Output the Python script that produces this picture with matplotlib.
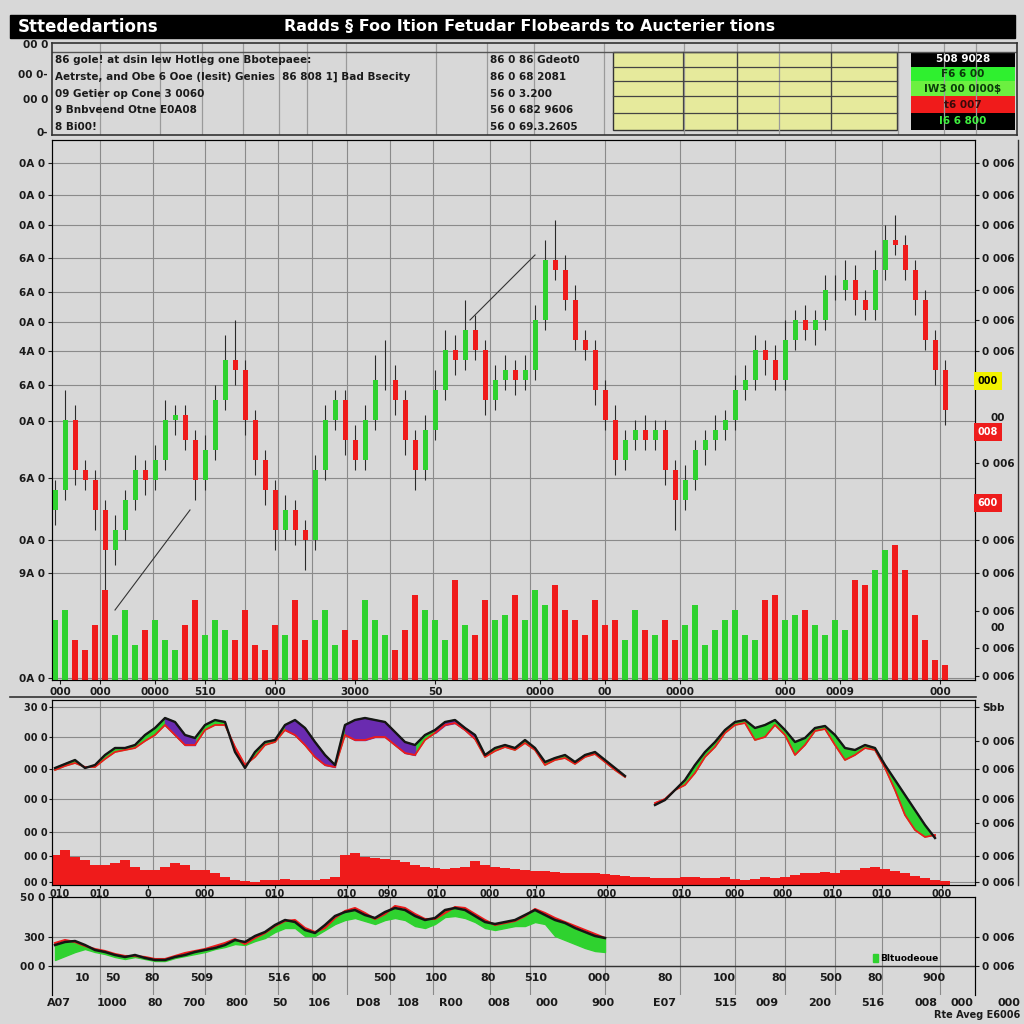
import numpy as np
import matplotlib
matplotlib.use("Agg")
import matplotlib.pyplot as plt
from matplotlib.patches import Rectangle, Patch
from matplotlib.lines import Line2D

plt.rcParams['font.family'] = ['Liberation Sans Narrow', 'DejaVu Sans']
plt.rcParams['font.weight'] = 'bold'

# ---------------- data ----------------
first_open = 34
close = [38, 52, 42, 40, 34, 26, 30, 36, 42, 40,
         44, 52, 53, 48, 40, 46, 56, 64, 62, 52,
         44, 38, 30, 34, 30, 28, 42, 52, 56, 48,
         44, 52, 60, 60, 56, 48, 42, 50, 58, 66,
         64, 70, 66, 56, 60, 62, 60, 62, 72, 84,
         82, 76, 68, 66, 58, 52, 44, 48, 50, 48,
         50, 42, 36, 40, 46, 48, 50, 52, 58, 60,
         66, 64, 60, 68, 72, 70, 72, 78, 78, 80,
         76, 74, 82, 88, 87, 82, 76, 68, 62, 54]
wick_up = [2, 6, 3, 2, 2, 2, 3, 2, 3, 2,
           3, 4, 2, 2, 2, 3, 3, 5, 8, 2,
           2, 2, 2, 3, 2, 2, 3, 3, 2, 2,
           3, 3, 5, 8, 3, 2, 2, 3, 4, 4,
           3, 6, 3, 2, 3, 3, 2, 3, 3, 4,
           8, 3, 3, 2, 2, 2, 3, 2, 2, 3,
           2, 2, 2, 3, 2, 2, 3, 2, 3, 3,
           3, 2, 3, 4, 2, 3, 2, 3, 3, 4,
           3, 2, 4, 3, 5, 2, 2, 2, 2, 2]
wick_dn = [3, 2, 3, 2, 4, 10, 3, 2, 2, 3,
           2, 2, 3, 2, 4, 2, 2, 2, 3, 3,
           3, 3, 4, 2, 3, 6, 2, 2, 2, 3,
           2, 2, 2, 2, 3, 3, 4, 2, 2, 2,
           3, 2, 2, 3, 2, 2, 3, 2, 2, 2,
           2, 2, 2, 2, 3, 2, 3, 2, 2, 2,
           2, 3, 6, 2, 2, 3, 2, 2, 2, 2,
           2, 3, 2, 2, 2, 2, 3, 2, 2, 2,
           3, 2, 2, 2, 2, 2, 3, 2, 3, 3]
volume = [60, 70, 40, 30, 55, 90, 45, 70, 35, 50,
          60, 40, 30, 55, 80, 45, 60, 50, 40, 70,
          35, 30, 55, 45, 80, 40, 60, 70, 35, 50,
          40, 80, 60, 45, 30, 50, 85, 70, 60, 40,
          100, 55, 45, 80, 60, 65, 85, 60, 90, 75,
          95, 70, 60, 45, 80, 55, 60, 40, 70, 50,
          45, 60, 40, 55, 75, 35, 50, 60, 70, 45,
          40, 80, 85, 60, 65, 70, 55, 45, 60, 50,
          100, 95, 110, 130, 135, 110, 65, 40, 20, 15]
trend_lines = [((6, 14), (13.5, 34)), ((41.5, 72), (48, 85))]

nan = np.nan
osc_fast = [117, 121, 125, 117, 120, 130, 137, 137, 140, 150,
            157, 167, 163, 150, 147, 160, 165, 163, 133, 117,
            133, 143, 145, 160, 165, 157, 143, 130, 120, 160,
            165, 167, 165, 163, 153, 143, 140, 150, 155, 163,
            165, 157, 150, 130, 137, 140, 137, 145, 137, 123,
            127, 130, 123, 130, 133, 125, 117, 109, nan, nan,
            80, 85, 95, 105, 120, 133, 143, 155, 163, 165,
            157, 160, 165, 155, 143, 147, 157, 159, 150, 137,
            135, 140, 137, 120, 105, 90, 75, 60, 47, nan]
osc_slow = [115, 119, 122, 118, 118, 126, 133, 135, 137, 144,
            150, 160, 150, 140, 140, 155, 160, 160, 138, 120,
            128, 140, 143, 155, 150, 140, 128, 120, 118, 150,
            145, 145, 148, 148, 140, 132, 130, 145, 152, 160,
            162, 155, 146, 128, 134, 138, 135, 142, 135, 120,
            125, 127, 121, 128, 131, 123, 115, 108, nan, nan,
            82, 86, 95, 100, 112, 128, 138, 152, 160, 162,
            145, 148, 160, 150, 130, 140, 154, 156, 140, 125,
            130, 137, 135, 117, 95, 70, 55, 48, 50, nan]
osc_hist = [30, 35, 28, 25, 20, 20, 22, 25, 18, 15,
            15, 18, 22, 20, 15, 15, 12, 8, 5, 4,
            3, 5, 5, 6, 5, 5, 5, 6, 8, 30,
            32, 28, 27, 26, 25, 23, 20, 18, 17, 16,
            17, 18, 24, 20, 18, 17, 16, 15, 14, 14,
            13, 12, 12, 12, 12, 11, 10, 9, 8, 8,
            7, 7, 7, 8, 8, 7, 7, 8, 6, 5,
            6, 8, 7, 8, 10, 12, 12, 13, 12, 15,
            15, 17, 18, 16, 14, 12, 9, 7, 5, 4]
purple_spans = [(11, 14), (23, 28), (29, 36), (38, 42)]

ma_black = [21, 24, 25, 21, 16, 14, 11, 9, 11, 8,
            6, 6, 9, 11, 14, 16, 18, 21, 26, 24,
            30, 34, 41, 46, 44, 36, 33, 41, 50, 54,
            56, 51, 48, 54, 58, 56, 50, 46, 48, 56,
            58, 56, 50, 44, 42, 44, 46, 51, 56, 51,
            46, 43, 38, 34, 30, 28]
ma_red = [23, 26, 24, 20, 17, 15, 12, 10, 10, 9,
          7, 7, 10, 13, 15, 17, 20, 23, 27, 22,
          28, 33, 40, 45, 46, 38, 34, 38, 48, 55,
          58, 53, 47, 52, 60, 58, 52, 47, 47, 53,
          59, 58, 52, 46, 41, 43, 45, 50, 57, 53,
          48, 44, 40, 36, 32, 28]
ma_low = [6, 10, 14, 17, 14, 12, 9, 7, 9, 7,
          5, 5, 8, 10, 12, 14, 17, 19, 22, 21,
          25, 28, 34, 38, 38, 30, 30, 36, 42, 46,
          48, 45, 42, 46, 48, 46, 40, 38, 42, 49,
          50, 48, 44, 38, 36, 38, 40, 40, 44, 42,
          30, 26, 22, 18, 15, 14]

price_ticks = [103.4, 97, 91, 84.4, 77.6, 71.6, 65.8, 59, 51.8, 40.4, 28, 21.4, 0.4]
price_left_labels = ["0A 0", "0A 0", "0A 0", "6A 0", "6A 0", "0A 0", "4A 0",
                     "6A 0", "0A 0", "6A 0", "0A 0", "9A 0", "0A 0"]
price_right_ticks = [103.4, 97, 91, 84.4, 78, 72, 65.8, 43.4, 28, 21.4, 13.8, 6.4, 0.8]
price_tags = [(59.8, "000", '#f2f200', 'black'), (49.6, "008", '#ee1c1c', 'white'),
              (35.4, "600", '#ee1c1c', 'white')]
price_x_ticks = [0.5, 4.5, 10, 15, 22, 30, 38, 48.5, 55, 62.5, 73, 78.5, 88.5]
price_x_labels = ["000", "000", "0000", "510", "000", "3000", "50", "0000", "00",
                  "0000", "000", "0009", "000"]
osc_left_ticks = [178, 148, 116, 86, 53, 29, 3]
osc_left_labels = ["30 0", "00 0", "00 0", "00 0", "00 0", "00 0", "00 0"]
osc_right_ticks = [178, 144, 116, 86, 62, 29, 3]
osc_right_labels = ["Sbb", "0 006", "0 006", "0 006", "0 006", "0 006", "0 006"]
osc_x_ticks = [0.5, 4.5, 9.3, 15, 22, 29.2, 33.3, 38.2, 43.5, 48.1, 55.2, 62.7,
               68, 72.8, 77.8, 82.7, 88.7]
osc_x_labels = ["010", "010", "0", "000", "010", "010", "090", "010", "000", "010",
                "000", "010", "000", "000", "010", "010", "000"]
ma_left_ticks = [69, 29, 0]
ma_left_labels = ["50 0", "300", "00 0"]
row1_x = [2.7, 5.8, 9.7, 14.7, 22.4, 26.4, 33, 38.1, 43.3, 48.1, 54.4, 61, 66.9,
          72.4, 77.6, 82, 87.9]
row1_labels = ["10", "50", "80", "509", "516", "00", "500", "100", "80", "510",
               "000", "80", "100", "80", "500", "80", "900"]
row2_x = [0.4, 5.7, 10, 13.9, 18.2, 22.5, 26.4, 31.3, 35.3, 39.6, 44.4, 49.2, 54.8,
          60.9, 67.1, 71.2, 76.5, 81.8, 87.1, 90.7, 95.4]
row2_labels = ["A07", "1000", "80", "700", "800", "50", "106", "D08", "108", "R00",
               "008", "000", "900", "E07", "515", "009", "200", "516", "008", "000", "000"]
grid_x = [4.5, 9.8, 15, 19, 22.3, 25.7, 29.2, 33.5, 37.8, 43.5, 47.5, 55, 62.5,
          68, 73, 78, 82.7, 88.5]

info_left = ["86 gole! at dsin lew Hotleg one Bbotepaee:",
             "Aetrste, and Obe 6 Ooe (lesit) Genies  86 808 1] Bad Bsecity",
             "09 Getier op Cone 3 0060",
             "9 Bnbveend Otne E0A08",
             "8 Bi00!"]
info_mid = ["86 0 86 Gdeot0", "86 0 68 2081", "56 0 3.200", "56 0 682 9606",
            "56 0 69.3.2605"]
status_rows = [("508 9028", 'black', 'white'), ("F6 6 00", '#2ff02f', '#0a3a0a'),
               ("IW3 00 0I00$", '#6cf040', '#0a3a0a'), ("t6 007", '#f01b1b', '#3a0a0a'),
               ("I6 6 800", 'black', '#3ff03f')]

# ---------------- style ----------------
BG = '#d8d8d8'
GREEN = '#2fd22f'
RED = '#ef1b1b'
PURPLE = '#6a2bb0'
GRID = '#8a8a8a'
TXT = '#1a1a1a'
W = 1024.0


def fx(x):
    return x / W


def fy(y):
    return 1 - y / W


def rect(x0, y0, x1, y1):
    return [fx(x0), fy(y1), (x1 - x0) / W, (y1 - y0) / W]


fig = plt.figure(figsize=(10.24, 10.24), dpi=100, facecolor=BG)

# title bar
fig.add_artist(Rectangle((fx(10), fy(38)), (1015 - 10) / W, 23 / W,
                         transform=fig.transFigure, color='black'))
fig.text(fx(18), fy(26.5), "Sttededartions", color='white', fontsize=12,
         va='center', ha='left')
fig.text(fx(530), fy(26.5), "Radds § Foo Ition Fetudar Flobeards to Aucterier tions",
         color='white', fontsize=11.5, va='center', ha='center')

# info panel
axi = fig.add_axes(rect(52, 43, 1017, 135))
axi.set_facecolor(BG)
axi.set_xlim(52, 1017)
axi.set_ylim(135, 43)
axi.set_xticks([])
axi.set_yticks([])
for s in axi.spines.values():
    s.set_color('#333333')
    s.set_linewidth(1.2)
for xv in [100, 160, 202, 243, 279, 307, 346, 436, 487, 534, 604, 684, 737, 779,
           831, 898, 944, 976]:
    axi.axvline(xv, color='#9a9a9a', lw=0.9)
axi.axhline(52, color='#555555', lw=1.0)
for i, t in enumerate(info_left):
    axi.text(55, 60 + i * 16.8, t, fontsize=7.5, color=TXT, va='center', ha='left')
for i, t in enumerate(info_mid):
    axi.text(490, 60 + i * 16.8, t, fontsize=7.5, color=TXT, va='center', ha='left')
axi.add_patch(Rectangle((613, 52), 284, 78, facecolor='#e6ea9c', edgecolor='#333333',
                        lw=1.0))
for yv in [67, 81, 96, 113]:
    axi.plot([613, 897], [yv, yv], color='#444444', lw=0.9)
for xv in [683, 737, 831]:
    axi.plot([xv, xv], [52, 130], color='#444444', lw=0.9)
row_edges = [52, 67, 81, 96, 113, 130]
for k, (t, fc, tc) in enumerate(status_rows):
    axi.add_patch(Rectangle((911, row_edges[k]), 104, row_edges[k + 1] - row_edges[k],
                            facecolor=fc, edgecolor='none'))
    axi.text(963, (row_edges[k] + row_edges[k + 1]) / 2, t, fontsize=7.5, color=tc,
             ha='center', va='center')
for yy, t in [(45, "00 0"), (75, "00 0-"), (100, "00 0"), (133, "0-")]:
    fig.text(fx(48), fy(yy), t, fontsize=7.5, ha='right', va='center', color=TXT)

# main price panel
main_rect = rect(52, 140, 975, 680)
ax = fig.add_axes(main_rect)
ax.set_facecolor(BG)
xs = np.arange(len(close))
opens = [first_open] + close[:-1]
cols = [GREEN if c >= o else RED for o, c in zip(opens, close)]
highs = [max(o, c) + u for o, c, u in zip(opens, close, wick_up)]
lows = [min(o, c) - d for o, c, d in zip(opens, close, wick_dn)]
ax.vlines(xs, lows, highs, color='#2a2a2a', lw=0.8, zorder=3)
ax.bar(xs, [abs(c - o) for o, c in zip(opens, close)], bottom=[min(o, c) for o, c in
       zip(opens, close)], width=0.5, color=cols, zorder=4)
for (x0, y0), (x1, y1) in trend_lines:
    ax.plot([x0, x1], [y0, y1], color='#333333', lw=0.8, zorder=5)
ax.set_xlim(-0.3, 92)
ax.set_ylim(0, 108)
for g in grid_x:
    ax.axvline(g, color=GRID, lw=0.8, zorder=1)
for t in price_ticks:
    ax.axhline(t, color=GRID, lw=0.8, zorder=1)
ax.set_yticks(price_ticks)
ax.set_yticklabels(price_left_labels)
ax.set_xticks(price_x_ticks)
ax.set_xticklabels(price_x_labels)
ax.tick_params(labelsize=7.5, colors=TXT, length=3, pad=2)
for s in ax.spines.values():
    s.set_color('#333333')

axv = fig.add_axes(main_rect)
axv.patch.set_alpha(0)
axv.bar(xs, volume, width=0.55, color=cols, zorder=2)
axv.set_xlim(-0.3, 92)
axv.set_ylim(0, 540)
axv.axis('off')

axr = ax.twinx()
axr.set_ylim(0, 108)
axr.set_yticks(price_right_ticks)
axr.set_yticklabels(["0 006"] * len(price_right_ticks))
axr.tick_params(labelsize=7.5, colors=TXT, length=3, pad=2)
for val, t, fc, tc in price_tags:
    axr.text(1.003, val / 108, t, transform=axr.transAxes, fontsize=7, color=tc,
             ha='left', va='center',
             bbox=dict(boxstyle='square,pad=0.4', fc=fc, ec='none'))
fig.text(fx(998), fy(418), "00", fontsize=7.5, ha='center', va='center', color=TXT)
fig.text(fx(998), fy(628), "00", fontsize=7.5, ha='center', va='center', color=TXT)

# separator and outer right frame
fig.add_artist(Line2D([fx(10), fx(976)], [fy(697), fy(697)], color='#333333', lw=1.2,
                      transform=fig.transFigure))
fig.add_artist(Line2D([fx(1018), fx(1018)], [fy(140), fy(885)], color='#333333',
                      lw=1.0, transform=fig.transFigure))

# oscillator panel
ax1 = fig.add_axes(rect(52, 700, 975, 885))
ax1.set_facecolor(BG)
x90 = np.arange(len(osc_fast))
f = np.array(osc_fast, dtype=float)
sl = np.array(osc_slow, dtype=float)
ax1.bar(x90, osc_hist, width=1.0, color=RED, zorder=2)
ax1.fill_between(x90, f, sl, where=f >= sl, color=GREEN, interpolate=True, zorder=3)
ax1.fill_between(x90, f, sl, where=f < sl, color=RED, interpolate=True, zorder=3)
for a, b in purple_spans:
    ax1.fill_between(x90[a:b + 1], f[a:b + 1], sl[a:b + 1], color=PURPLE, zorder=3)
ax1.plot(x90, sl, color=RED, lw=1.3, zorder=4)
ax1.plot(x90, f, color='#151515', lw=1.7, zorder=5)
ax1.set_xlim(-0.3, 92)
ax1.set_ylim(0, 185)
for g in grid_x:
    ax1.axvline(g, color=GRID, lw=0.8, zorder=1)
for t in osc_left_ticks:
    ax1.axhline(t, color=GRID, lw=0.8, zorder=1)
ax1.set_yticks(osc_left_ticks)
ax1.set_yticklabels(osc_left_labels)
ax1.set_xticks(osc_x_ticks)
ax1.set_xticklabels(osc_x_labels)
ax1.tick_params(labelsize=7, colors=TXT, length=2, pad=1)
for s in ax1.spines.values():
    s.set_color('#333333')
ax1r = ax1.twinx()
ax1r.set_ylim(0, 185)
ax1r.set_yticks(osc_right_ticks)
ax1r.set_yticklabels(osc_right_labels)
ax1r.tick_params(labelsize=7.5, colors=TXT, length=3, pad=2)

# moving average panel
ax2 = fig.add_axes(rect(52, 897, 975, 995))
ax2.set_facecolor(BG)
x56 = np.arange(len(ma_black))
mb = np.array(ma_black, dtype=float)
ml = np.array(ma_low, dtype=float)
ax2.fill_between(x56, mb, ml, color=GREEN, zorder=2)
ax2.plot(x56, ma_red, color=RED, lw=1.5, zorder=3)
ax2.plot(x56, ma_black, color='#151515', lw=1.8, zorder=4)
ax2.set_xlim(-0.3, 92)
ax2.set_ylim(-29, 69)
for g in grid_x:
    ax2.axvline(g, color=GRID, lw=0.8, zorder=1)
for t in [29, 0]:
    ax2.axhline(t, color=GRID, lw=0.8, zorder=1)
ax2.axhline(0, color='#333333', lw=1.0, zorder=1)
ax2.set_yticks(ma_left_ticks)
ax2.set_yticklabels(ma_left_labels)
ax2.set_xticks([])
ax2.tick_params(labelsize=7.5, colors=TXT, length=3, pad=2)
ax2.spines['bottom'].set_visible(False)
for s in ax2.spines.values():
    s.set_color('#333333')
ax2r = ax2.twinx()
ax2r.set_ylim(-29, 69)
ax2r.set_yticks([29, 0])
ax2r.set_yticklabels(["0 006", "0 006"])
ax2r.tick_params(labelsize=7.5, colors=TXT, length=3, pad=2)
ax2r.spines['bottom'].set_visible(False)
for xv, t in zip(row1_x, row1_labels):
    ax2.text(xv, -12, t, fontsize=8, ha='center', va='center', color=TXT)
for xv, t in zip(row2_x, row2_labels):
    ax2.text(xv, -37, t, fontsize=8, ha='center', va='center', color=TXT,
             clip_on=False)
ax2.legend(handles=[Patch(color=GREEN, label='Bltuodeoue')], loc='lower left',
           bbox_to_anchor=(0.885, 0.28), frameon=False, fontsize=6.5,
           handlelength=0.5, handleheight=1.0, handletextpad=0.3, borderpad=0)
fig.text(fx(1020), fy(1015), "Rte Aveg E6006", fontsize=7, ha='right', va='center',
         color=TXT)

fig.savefig("out.png", dpi=100, facecolor=BG)
